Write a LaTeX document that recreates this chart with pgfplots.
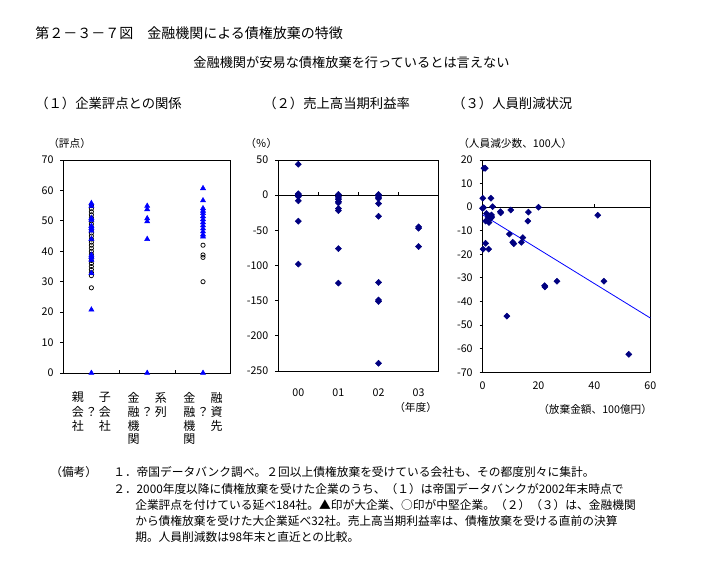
\documentclass[border=0pt]{standalone}
\usepackage{fontspec}
\setmainfont{Noto Sans CJK JP}
\usepackage{pgfplots}
\pgfplotsset{compat=1.18}
\definecolor{xlblue}{RGB}{0,0,255}
\definecolor{xlnavy}{RGB}{0,0,128}
\newcommand{\catlab}[1]{\fontsize{9pt}{10.1pt}\selectfont\renewcommand{\arraystretch}{1}\begin{tabular}[t]{@{}c@{\hspace{1.2pt}}c@{\hspace{1.2pt}}c@{}}#1\end{tabular}}
\begin{document}
\begin{tikzpicture}
\useasboundingbox (0,0) rectangle (525.75pt,-426.75pt);
\pgfplotsset{
  every axis/.append style={
    scale only axis, clip=false,
    axis line style={line width=0.75pt},
    /pgf/number format/assume math mode=true,
    tick label style={font=\fontsize{8pt}{9.6pt}\selectfont},
    ytick align=outside, ytick pos=left,
    major tick length=2.25pt,
    tick style={black, line width=0.75pt},
    yticklabel style={anchor=east, inner sep=0pt, xshift=-5pt},
  }
}
% ---------- Panel 1 ----------
\begin{axis}[
  at={(47.6pt,-120pt)}, anchor=north west,
  width=125.6pt, height=159.75pt,
  xmin=-0.5, xmax=2.5, ymin=0, ymax=70,
  ytick={0,10,...,70},
  xtick={0.5,1.5}, xticklabels={}, xtick align=inside, xtick pos=bottom,
  extra x ticks={0,1,2},
  extra x tick labels={
    {\catlab{親&&子\\会&？&会\\社&&社}},
    {\catlab{金&&系\\融&？&列\\機&&\\関&&}},
    {\catlab{金&&融\\融&？&資\\機&&先\\関&&}}},
  extra x tick style={major tick length=0pt, xticklabel style={anchor=north, inner sep=0pt, yshift=-14pt}},
]
% mid-size firms (open circles)
\addplot[only marks, mark=o, mark size=1.6pt, mark options={black, line width=0.55pt}] coordinates {
 (0,28) (0,32) (0,33) (0,34) (0,35) (0,36) (0,37) (0,38) (0,39) (0,40) (0,41) (0,42) (0,43)
 (0,44) (0,45) (0,46) (0,47) (0,48) (0,49) (0,50) (0,51) (0,52) (0,53) (0,54) (0,55)
 (2,42) (2,38.8) (2,38) (2,30)
};
% large firms (filled triangles)
\addplot[only marks, mark=triangle*, mark size=2.2pt, mark options={xlblue, fill=xlblue}] coordinates {
 (0,0) (0,20.8) (0,32.8) (0,37.2) (0,38.1) (0,38.8) (0,44) (0,46.8) (0,47.6) (0,48.3)
 (0,50.3) (0,50.9) (0,54.9) (0,55.8)
 (1,0) (1,44) (1,49.8) (1,50.8) (1,53.8) (1,54.9)
 (2,0) (2,44.8) (2,45.5) (2,46.5) (2,47.5) (2,48.5) (2,49.5) (2,50.5) (2,51.5) (2,52.5)
 (2,53.3) (2,54.1) (2,56.7) (2,60.7)
};
\end{axis}
% ---------- Panel 2 ----------
\begin{axis}[
  at={(208.7pt,-120pt)}, anchor=north west,
  width=120.3pt, height=158.25pt,
  xmin=-0.5, xmax=3.5, ymin=-250, ymax=50,
  ytick={-250,-200,...,50},
  xtick={0,1,2,3}, xticklabels={00,01,02,03},
  xtick style={draw=none},
  xticklabel style={anchor=center, yshift=-16.5pt},
]
\addplot[black, line width=0.75pt] coordinates {(-0.5,0) (3.5,0)};
\addplot[ycomb, black, line width=0.75pt, mark=none] coordinates {(0.5,4.3) (1.5,4.3) (2.5,4.3)};
\addplot[only marks, mark=square*, mark size=1.6pt, mark options={xlnavy, fill=xlnavy, rotate=45}] coordinates {
 (0,44) (0,2) (0,1) (0,0) (0,-1) (0,-2) (0,-8) (0,-37) (0,-98)
 (1,1) (1,-2) (1,-4) (1,-6) (1,-9) (1,-11) (1,-19) (1,-22) (1,-76) (1,-125)
 (2,1) (2,-1) (2,-3) (2,-5) (2,-12) (2,-30) (2,-124) (2,-149) (2,-151) (2,-239)
 (3,-45) (3,-47) (3,-73)
};
\end{axis}
% ---------- Panel 3 ----------
\begin{axis}[
  at={(361.9pt,-120pt)}, anchor=north west,
  width=125.85pt, height=159.2pt,
  xmin=0, xmax=60, ymin=-70, ymax=20,
  ytick={-70,-60,...,20},
  xtick={0,20,40,60},
  xtick style={draw=none},
  xticklabel style={anchor=center, yshift=-10pt},
]
\addplot[black, line width=0.75pt] coordinates {(0,0) (60,0)};
\addplot[ycomb, black, line width=0.75pt, mark=none] coordinates {(20,1.3) (40,1.3)};
\addplot[only marks, mark=square*, mark size=1.6pt, mark options={xlnavy, fill=xlnavy, rotate=45}] coordinates {
 (0.5,16.5) (1.0,16.5) (0.1,3.8) (3.0,3.8) (0,-0.5) (0.4,-0.2) (3.6,0.2) (1.4,-2.7)
 (1.1,-5.9) (2.0,-4.2) (2.6,-3.7) (3.2,-3.3) (3.0,-4.7) (3.3,-4.2) (2.3,-6.5) (1.1,-15.3)
 (0.2,-17.8) (2.2,-17.8) (6.4,-1.9) (6.5,-2.4) (10.1,-1.2) (9.6,-11.4) (8.7,-46.2)
 (10.8,-14.9) (11.2,-15.5) (13.9,-14.9) (14.4,-12.9) (16.4,-2.1) (16.2,-5.9) (20.0,0)
 (22.2,-33.3) (22.3,-33.8) (26.6,-31.4) (41.2,-3.4) (43.4,-31.4) (52.3,-62.4)
};
\addplot[xlblue, line width=0.6pt] coordinates {(0,-3.2) (60,-47)};
\end{axis}
% ---------- Texts ----------
\node[anchor=west, inner sep=0pt, font=\fontsize{10.5pt}{12pt}\selectfont] at (26.25pt,-24.75pt) {第２－３－７図　金融機関による債権放棄の特徴};
\node[anchor=center, inner sep=0pt, font=\fontsize{9.9pt}{12pt}\selectfont] at (263.6pt,-46.5pt) {金融機関が安易な債権放棄を行っているとは言えない};
\node[anchor=west, inner sep=0pt, font=\fontsize{10pt}{12pt}\selectfont] at (26.25pt,-77.25pt) {（１）企業評点との関係};
\node[anchor=west, inner sep=0pt, font=\fontsize{10pt}{12pt}\selectfont] at (197.25pt,-77.25pt) {（２）売上高当期利益率};
\node[anchor=west, inner sep=0pt, font=\fontsize{10pt}{12pt}\selectfont] at (339pt,-77.25pt) {（３）人員削減状況};
\node[anchor=west, inner sep=0pt, font=\fontsize{8pt}{10pt}\selectfont] at (36pt,-107.25pt) {（評点）};
\node[anchor=west, inner sep=0pt, font=\fontsize{8pt}{10pt}\selectfont] at (183.75pt,-107.25pt) {（％）};
\node[anchor=west, inner sep=0pt, font=\fontsize{8pt}{10pt}\selectfont] at (343.5pt,-107.25pt) {（人員減少数、100人）};
\node[anchor=west, inner sep=0pt, font=\fontsize{8pt}{10pt}\selectfont] at (295.5pt,-305.25pt) {（年度）};
\node[anchor=west, inner sep=0pt, font=\fontsize{8pt}{10pt}\selectfont] at (403.5pt,-306.75pt) {（放棄金額、100億円）};
\begin{scope}[every node/.style={anchor=west, inner sep=0pt, font=\fontsize{8.8pt}{10pt}\selectfont}]
\node at (37.5pt,-354pt) {（備考）};
\node at (84.75pt,-354pt) {１．帝国データバンク調べ。２回以上債権放棄を受けている会社も、その都度別々に集計。};
\node at (84.75pt,-366.75pt) {２．2000年度以降に債権放棄を受けた企業のうち、（１）は帝国データバンクが2002年末時点で};
\node at (101.25pt,-378.75pt) {企業評点を付けている延べ184社。▲印が大企業、○印が中堅企業。（２）（３）は、金融機関};
\node at (101.25pt,-390.75pt) {から債権放棄を受けた大企業延べ32社。売上高当期利益率は、債権放棄を受ける直前の決算};
\node at (101.25pt,-402.75pt) {期。人員削減数は98年末と直近との比較。};
\end{scope}
\end{tikzpicture}
\end{document}
